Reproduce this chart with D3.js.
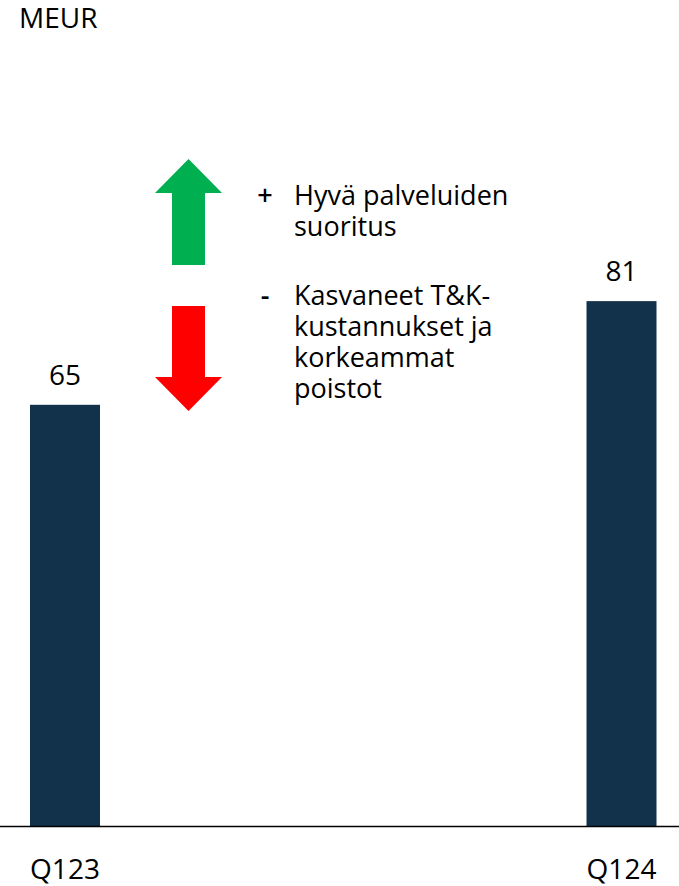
<!DOCTYPE html>
<meta charset="utf-8">
<style>
  body { margin: 0; background: #fff; }
  text { font-family: "Open Sans", "Noto Sans", sans-serif; fill: #000; }
</style>
<svg width="679" height="886"></svg>
<script src="https://d3js.org/d3.v7.min.js"></script>
<script>

var quarters = ["Q123", "Q124"],
    values = [65, 81];

var notes = [
  {sign: "+", lines: ["Hyvä palveluiden", "suoritus"], dir: "up"},
  {sign: "-", lines: ["Kasvaneet T&K-", "kustannukset ja", "korkeammat", "poistot"], dir: "down"}
];

var width = 679,
    height = 886,
    barWidth = 70;

var svg = d3.select("svg");

var x = d3.scalePoint()
    .domain(quarters)
    .range([65, 621.5]);

var y = d3.scaleLinear()
    .domain([0, 100])
    .range([826, 178]);

svg.append("text")
    .attr("x", 19)
    .attr("y", 28)
    .style("font-size", "28px")
    .text("MEUR");

svg.selectAll(".bar")
    .data(values)
  .enter().append("rect")
    .attr("class", "bar")
    .attr("x", function(d, i) { return x(quarters[i]) - barWidth / 2; })
    .attr("y", function(d) { return y(d); })
    .attr("width", barWidth)
    .attr("height", function(d) { return y(0) - y(d); })
    .attr("fill", "#12324b");

svg.selectAll(".value")
    .data(values)
  .enter().append("text")
    .attr("class", "value")
    .attr("x", function(d, i) { return x(quarters[i]); })
    .attr("y", function(d) { return y(d) - 20; })
    .attr("text-anchor", "middle")
    .style("font-size", "28px")
    .text(function(d) { return d; });

svg.append("line")
    .attr("x1", 0)
    .attr("x2", width)
    .attr("y1", y(0) + 0.5)
    .attr("y2", y(0) + 0.5)
    .attr("stroke", "#000")
    .attr("stroke-width", 1.5);

svg.selectAll(".tick")
    .data(quarters)
  .enter().append("text")
    .attr("class", "tick")
    .attr("x", function(d) { return x(d); })
    .attr("y", 879)
    .attr("text-anchor", "middle")
    .style("font-size", "28px")
    .text(function(d) { return d; });

// arrows: [top, bottom] of each arrow
function arrow(top, bottom, dir) {
  var cx = 188.5, hw = 33.5, sw = 16.5, head = 34;
  if (dir === "up") {
    return "M" + cx + "," + top +
      "L" + (cx + hw) + "," + (top + head) +
      "L" + (cx + sw) + "," + (top + head) +
      "L" + (cx + sw) + "," + bottom +
      "L" + (cx - sw) + "," + bottom +
      "L" + (cx - sw) + "," + (top + head) +
      "L" + (cx - hw) + "," + (top + head) + "Z";
  }
  return "M" + cx + "," + bottom +
    "L" + (cx + hw) + "," + (bottom - head) +
    "L" + (cx + sw) + "," + (bottom - head) +
    "L" + (cx + sw) + "," + top +
    "L" + (cx - sw) + "," + top +
    "L" + (cx - sw) + "," + (bottom - head) +
    "L" + (cx - hw) + "," + (bottom - head) + "Z";
}

svg.append("path").attr("d", arrow(159, 265, "up")).attr("fill", "#00b050");
svg.append("path").attr("d", arrow(306, 411, "down")).attr("fill", "#ff0000");

var noteTop = [205, 305];

notes.forEach(function(n, i) {
  svg.append("text")
      .attr("x", 265)
      .attr("y", noteTop[i])
      .attr("text-anchor", "middle")
      .style("font-size", "27px")
      .style("font-weight", 600)
      .text(n.sign);
  var t = svg.append("text")
      .attr("x", 294)
      .attr("y", noteTop[i])
      .style("font-size", "27px");
  n.lines.forEach(function(l, j) {
    t.append("tspan")
        .attr("x", 294)
        .attr("dy", j ? 31 : 0)
        .text(l);
  });
});

</script>
